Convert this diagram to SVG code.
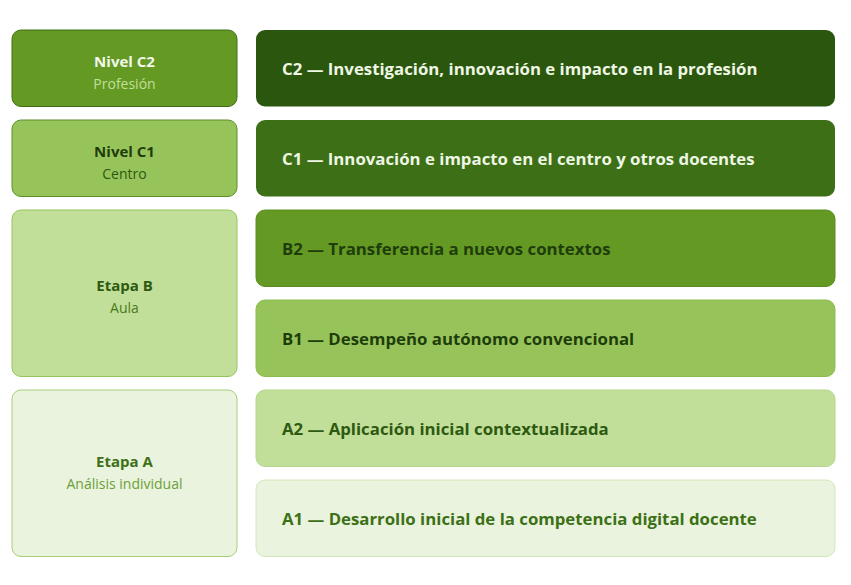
<svg xmlns="http://www.w3.org/2000/svg" width="851" height="585" viewBox="0 0 851 585">
<style>
.lab{font-family:"Open Sans","Noto Sans","DejaVu Sans",sans-serif;}
.t{font-size:15px;font-weight:700;text-anchor:middle;}
.s{font-size:14px;font-weight:400;text-anchor:middle;}
.r{font-size:16.8px;font-weight:700;}
</style>
<rect width="851" height="585" fill="#ffffff"/>
<g id="left-C2">
<rect x="12" y="30" width="225" height="76.5" rx="9" fill="#649a24" stroke="#3f6f14" stroke-width="1"/>
<text class="lab t" x="124.5" y="66.5" fill="#f2f8ea">Nivel C2</text>
<text class="lab s" x="124.5" y="88.5" fill="#c2df9a">Profesión</text>
</g>
<g id="left-C1">
<rect x="12" y="120" width="225" height="76.5" rx="9" fill="#97c45a" stroke="#5c8f28" stroke-width="1"/>
<text class="lab t" x="124.5" y="156.5" fill="#1f3d0a">Nivel C1</text>
<text class="lab s" x="124.5" y="178.5" fill="#2d5a10">Centro</text>
</g>
<g id="left-B">
<rect x="12" y="210" width="225" height="166.5" rx="9" fill="#c2df9a" stroke="#97c45a" stroke-width="1"/>
<text class="lab t" x="124.5" y="290.5" fill="#2d5a10">Etapa B</text>
<text class="lab s" x="124.5" y="312.5" fill="#4a7a1a">Aula</text>
</g>
<g id="left-A">
<rect x="12" y="390" width="225" height="166.5" rx="9" fill="#eaf3de" stroke="#a6cc7a" stroke-width="1"/>
<text class="lab t" x="124.5" y="466.5" fill="#3d7016">Etapa A</text>
<text class="lab s" x="124.5" y="488.5" fill="#6aa038">Análisis individual</text>
</g>
<g id="C2">
<rect x="256" y="30" width="579" height="76.5" rx="9" fill="#2b560e"/>
<text class="lab r" x="282" y="74.5" fill="#eef6e4">C2 — Investigación, innovación e impacto en la profesión</text>
</g>
<g id="C1">
<rect x="256" y="120" width="579" height="76.5" rx="9" fill="#3d7016"/>
<text class="lab r" x="282" y="164.5" fill="#eef6e4">C1 — Innovación e impacto en el centro y otros docentes</text>
</g>
<g id="B2">
<rect x="256" y="210" width="579" height="76.5" rx="9" fill="#649a24" stroke="#5a8e20" stroke-width="1"/>
<text class="lab r" x="282" y="254.5" fill="#1f3d0a">B2 — Transferencia a nuevos contextos</text>
</g>
<g id="B1">
<rect x="256" y="300" width="579" height="76.5" rx="9" fill="#97c45a" stroke="#8cbc4e" stroke-width="1"/>
<text class="lab r" x="282" y="344.5" fill="#1f3d0a">B1 — Desempeño autónomo convencional</text>
</g>
<g id="A2">
<rect x="256" y="390" width="579" height="76.5" rx="9" fill="#c2df9a" stroke="#b4d78a" stroke-width="1"/>
<text class="lab r" x="282" y="434.5" fill="#2d5a10">A2 — Aplicación inicial contextualizada</text>
</g>
<g id="A1">
<rect x="256" y="480" width="579" height="76.5" rx="9" fill="#eaf3de" stroke="#d2e6ba" stroke-width="1"/>
<text class="lab r" x="282" y="524.5" fill="#3d7016">A1 — Desarrollo inicial de la competencia digital docente</text>
</g>
<g id="connectors"></g>
</svg>
